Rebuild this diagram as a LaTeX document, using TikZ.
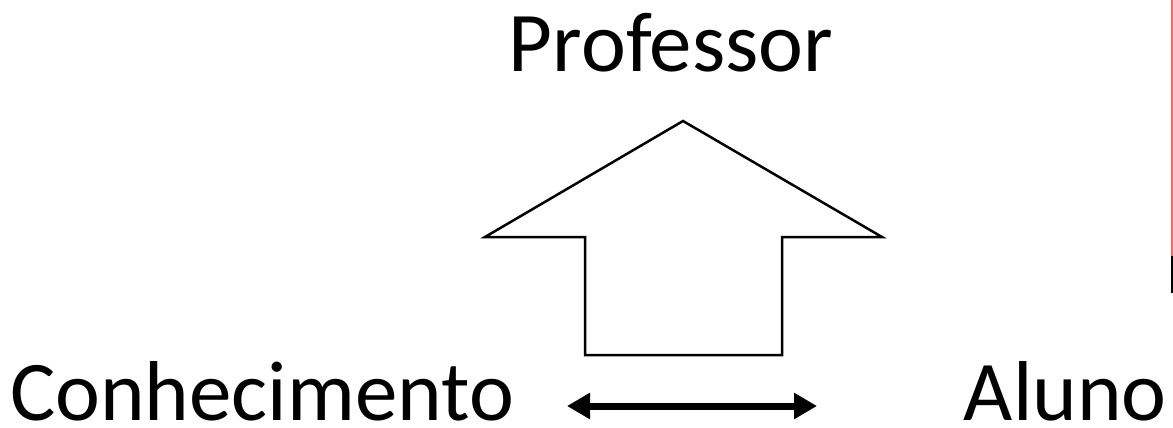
\documentclass[tikz,border=0pt]{standalone}
\usepackage{fontspec}
\setmainfont{Carlito}
\usetikzlibrary{arrows.meta}

\begin{document}
\begin{tikzpicture}[
        x=1pt,
        y=-1pt,
        label-text/.style={
            inner sep=0pt,
            text depth=0pt,
            font=\fontsize{85}{85}\selectfont,
        },
        up-arrow/.style={
            line width=2.5pt,
            line join=miter,
        },
        link-both/.style={
            line width=7pt,
            {Triangle[length=23pt,width=25pt]}-{Triangle[length=23pt,width=25pt]},
        },
        edge-mark/.style={
            line width=2pt,
        },
    ]
    \useasboundingbox (0,0) rectangle (1173,428);

    % Labels.
    \node[label-text, anchor=base] (prof) at (671,71) {Professor};
    \node[label-text, anchor=base west] (conh) at (10,420) {Conhecimento};
    \node[label-text, anchor=base east] (aluno) at (1167,420) {Aluno};

    % Big upward arrow.
    \draw[up-arrow] (683,121) -- (485,237) -- (585,237) -- (585,355)
        -- (782,355) -- (782,237) -- (882,237) -- cycle;

    % Link between knowledge and student.
    \coordinate (lk) at (567,406);
    \coordinate (la) at (817,406);
    \draw[link-both] (lk) -- (la);

    % Right edge.
    \draw[edge-mark, color={rgb,255:red,232;green,112;blue,96}] (1172,0) -- (1172,256);
    \draw[edge-mark] (1172,256) -- (1172,293);
\end{tikzpicture}
\end{document}
